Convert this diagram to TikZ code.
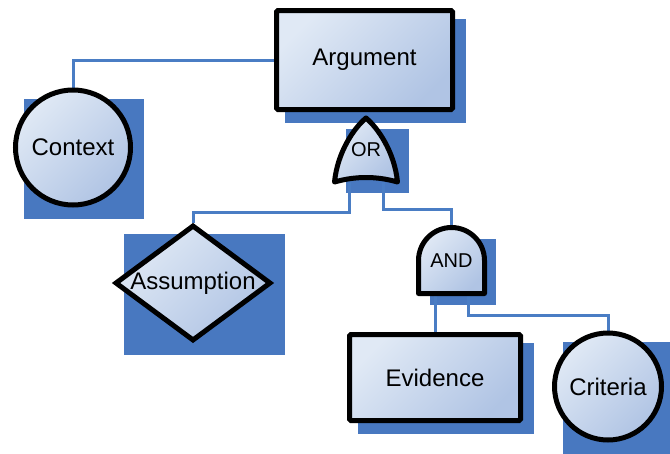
\documentclass[tikz,border=0pt]{standalone}
\usepackage{fontspec}
\setmainfont{Liberation Sans}
\usepackage{tikz}
\usetikzlibrary{shapes.geometric,backgrounds,calc}
\definecolor{shadowblue}{RGB}{72,120,192}
\definecolor{linkblue}{RGB}{74,125,196}
\definecolor{filltop}{RGB}{224,233,245}
\definecolor{fillbot}{RGB}{176,196,228}
\newcommand\dropshadow[1]{\fill[shadowblue] ($(#1.west |- #1.north)+(11,11)$) rectangle ($(#1.east |- #1.south)+(11,11)$);}

\begin{document}
\begin{tikzpicture}[
  x=1pt, y=-1pt,
  every node/.style={font=\fontsize{24}{28}\selectfont},
  bluefill/.style={top color=filltop, bottom color=fillbot, shading angle=45},
  box/.style={draw, line width=5pt, rounded corners=1.5pt, bluefill},
  ball/.style={draw, circle, line width=5pt, inner sep=0pt, bluefill},
  rhomb/.style={draw, diamond, line width=5pt, inner sep=0pt, bluefill},
  gate/.style={inner sep=0pt, outer sep=0pt, font=\fontsize{20}{24}\selectfont},
  gateline/.style={draw, line width=5pt, line join=round, bluefill},
  link/.style={draw=linkblue, line width=3pt}
]
\useasboundingbox (0,0) rectangle (670,453);
\node[box, minimum width=176, minimum height=99] (arg) at (364.5,60) {Argument};
\node[ball, minimum size=115] (ctx) at (73,147.5) {Context};
\node[gate, minimum width=63, minimum height=64] (or) at (366,150) {OR};
\node[rhomb, minimum width=156, minimum height=116] (asm) at (193,283) {\makebox[0pt]{Assumption}};
\node[gate, minimum width=66, minimum height=66] (and) at (451.5,260.5) {AND};
\node[box, minimum width=171, minimum height=86] (evd) at (435,377.5) {Evidence};
\node[ball, minimum size=107] (crt) at (608,386.5) {Criteria};

\begin{scope}[on background layer]
\dropshadow{arg}
\dropshadow{ctx}
\dropshadow{or}
\dropshadow{asm}
\dropshadow{and}
\dropshadow{evd}
\dropshadow{crt}
\draw[link] (arg.west) -| (ctx.north);
\draw[link] ([xshift=-17pt]or.south) -- ++(0,30) -| (asm.north);
\draw[link] ([xshift=17pt]or.south) -- ++(0,27) -| (and.north);
\draw[link] (evd.north) -- (evd.north |- and.south);
\draw[link] ([xshift=16.5pt]and.south) -- ++(0,22) -| (crt.north);
\path[gateline] (or.north) .. controls +(-12,10) and +(3,-30) .. (or.south west)
  .. controls +(21,-6) and +(-21,-6) .. (or.south east)
  .. controls +(-3,-30) and +(12,10) .. (or.north) -- cycle;
\path[gateline] (and.south west) -- (and.west)
  arc[start angle=180, end angle=360, radius=33] -- (and.south east) -- cycle;
\end{scope}
\end{tikzpicture}
\end{document}
